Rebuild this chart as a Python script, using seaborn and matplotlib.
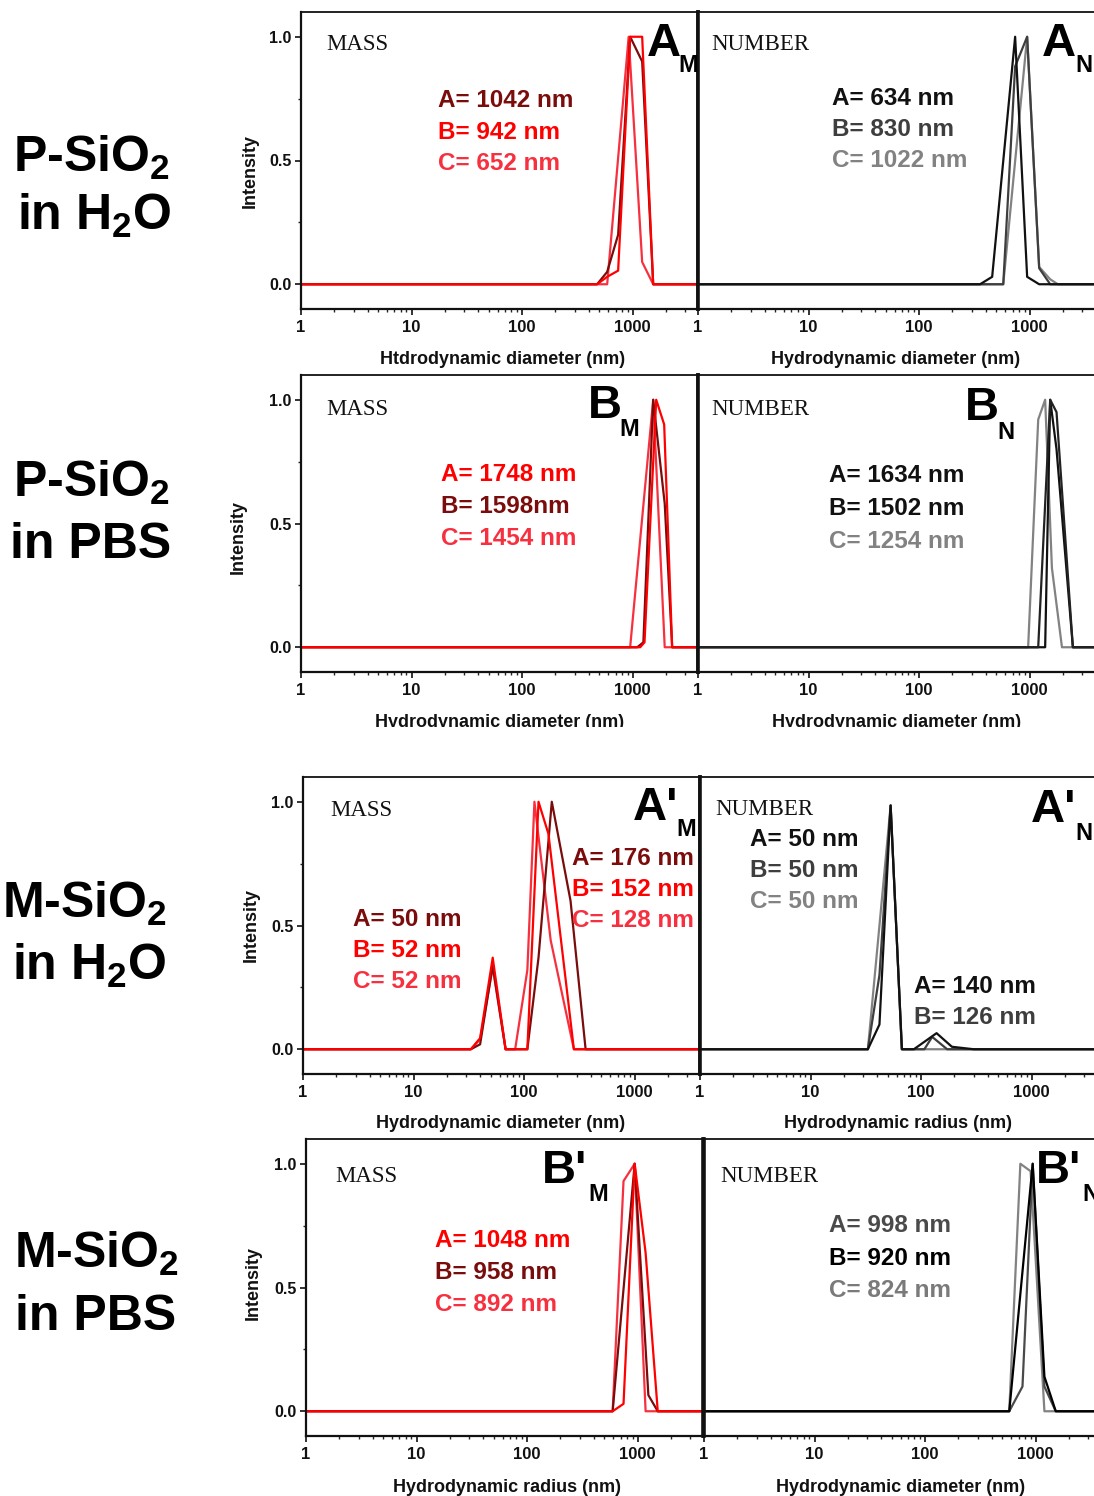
import matplotlib
matplotlib.use("Agg")
import matplotlib.pyplot as plt
import seaborn as sns
from matplotlib.ticker import FixedLocator, LogLocator, FuncFormatter, NullFormatter
from matplotlib.patches import Rectangle

# ---------------- DATA ----------------
x_ticks = [1, 10, 100, 1000]
x_tick_labels = ["1", "10", "100", "1000"]
y_ticks = [0.0, 0.5, 1.0]
y_tick_labels = ["0.0", "0.5", "1.0"]

# Row 1: P-SiO2 in H2O
p_h2o_mass_A_x = [1, 477, 588, 739, 949, 1219, 1534, 3900]
p_h2o_mass_A_y = [0, 0, 0.05, 0.2, 1.0, 0.9, 0, 0]
p_h2o_mass_B_x = [1, 477, 588, 739, 949, 1219, 1534, 3900]
p_h2o_mass_B_y = [0, 0, 0.03, 0.055, 1.0, 1.0, 0, 0]
p_h2o_mass_C_x = [1, 588, 920, 1219, 1534, 3900]
p_h2o_mass_C_y = [0, 0, 1.0, 0.09, 0, 0]
p_h2o_num_A_x = [1, 356, 458, 739, 949, 1219, 3900]
p_h2o_num_A_y = [0, 0, 0.03, 1.0, 0.03, 0, 0]
p_h2o_num_B_x = [1, 458, 577, 739, 949, 1219, 1534, 3900]
p_h2o_num_B_y = [0, 0, 0, 0.88, 1.0, 0.065, 0, 0]
p_h2o_num_C_x = [1, 577, 949, 1219, 1534, 1800, 3900]
p_h2o_num_C_y = [0, 0, 1.0, 0.07, 0.02, 0, 0]

# Row 2: P-SiO2 in PBS
p_pbs_mass_A_x = [1, 1170, 1280, 1633, 1928, 2277, 3900]
p_pbs_mass_A_y = [0, 0, 0.02, 1.0, 0.9, 0, 0]
p_pbs_mass_B_x = [1, 1100, 1250, 1534, 1950, 2277, 3900]
p_pbs_mass_B_y = [0, 0, 0.02, 1.0, 0.58, 0, 0]
p_pbs_mass_C_x = [1, 949, 1534, 1950, 3900]
p_pbs_mass_C_y = [0, 0, 1.0, 0, 0]
p_pbs_num_A_x = [1, 1195, 1534, 1750, 2460, 3900]
p_pbs_num_A_y = [0, 0, 1.0, 0.95, 0, 0]
p_pbs_num_B_x = [1, 1381, 1534, 1750, 2460, 3900]
p_pbs_num_B_y = [0, 0, 1.0, 0.8, 0, 0]
p_pbs_num_C_x = [1, 969, 1195, 1381, 1590, 1960, 3900]
p_pbs_num_C_y = [0, 0, 0.92, 1.0, 0.32, 0, 0]

# Row 3: M-SiO2 in H2O
m_h2o_mass_A_x = [1, 33, 40, 52, 68, 107, 135, 178, 263, 360, 3900]
m_h2o_mass_A_y = [0, 0, 0.02, 0.34, 0, 0, 0.37, 1.0, 0.6, 0, 0]
m_h2o_mass_B_x = [1, 33, 40, 52, 68, 107, 135, 166, 282, 3900]
m_h2o_mass_B_y = [0, 0, 0.045, 0.37, 0, 0, 1.0, 0.87, 0, 0]
m_h2o_mass_C_x = [1, 33, 40, 52, 68, 83, 107, 124, 174, 282, 3900]
m_h2o_mass_C_y = [0, 0, 0.04, 0.33, 0, 0, 0.32, 1.0, 0.44, 0, 0]
m_h2o_num_A_x = [1, 33, 42, 53, 67, 86, 138, 190, 300, 3900]
m_h2o_num_A_y = [0, 0, 0.1, 0.985, 0, 0, 0.065, 0.01, 0, 0]
m_h2o_num_B_x = [1, 33, 42, 53, 67, 107, 126, 172, 3900]
m_h2o_num_B_y = [0, 0, 0.3, 0.985, 0, 0, 0.05, 0, 0]
m_h2o_num_C_x = [1, 33, 42, 53, 67, 3900]
m_h2o_num_C_y = [0, 0, 0.5, 0.985, 0, 0]

# Row 4: M-SiO2 in PBS
m_pbs_mass_A_x = [1, 594, 745, 940, 1180, 1520, 3900]
m_pbs_mass_A_y = [0, 0, 0.03, 1.0, 0.64, 0, 0]
m_pbs_mass_B_x = [1, 594, 940, 1250, 1520, 3900]
m_pbs_mass_B_y = [0, 0, 1.0, 0.065, 0, 0]
m_pbs_mass_C_x = [1, 594, 745, 940, 1180, 3900]
m_pbs_mass_C_y = [0, 0, 0.93, 1.0, 0, 0]
m_pbs_num_A_x = [1, 577, 760, 940, 1200, 1520, 3900]
m_pbs_num_A_y = [0, 0, 0.1, 1.0, 0.1, 0, 0]
m_pbs_num_B_x = [1, 577, 940, 1200, 1520, 3900]
m_pbs_num_B_y = [0, 0, 1.0, 0.14, 0, 0]
m_pbs_num_C_x = [1, 577, 727, 900, 1200, 3900]
m_pbs_num_C_y = [0, 0, 1.0, 0.97, 0, 0]

row_labels = [("P-SiO$_2$", "in H$_2$O"), ("P-SiO$_2$", "in PBS"),
              ("M-SiO$_2$", "in H$_2$O"), ("M-SiO$_2$", "in PBS")]

# ---------------- STYLE ----------------
sns.set_theme(style="white")
plt.rcParams["font.family"] = ["Liberation Sans", "DejaVu Sans"]
plt.rcParams["font.weight"] = "bold"
plt.rcParams["mathtext.fontset"] = "custom"
plt.rcParams["mathtext.rm"] = "Liberation Sans:bold"
plt.rcParams["mathtext.it"] = "Liberation Sans:bold"
plt.rcParams["mathtext.bf"] = "Liberation Sans:bold"

DR = "#7a0c0c"
RR = "#ff0000"
LR = "#f7303f"
K = "#111111"
DG = "#3e3e3e"
GG = "#828282"

W, H = 1094, 1496
fig = plt.figure(figsize=(W / 100, H / 100), dpi=100)
fig.patch.set_facecolor("white")


def fx(px):
    return px / W


def fy(py):
    return 1 - py / H


def T(px, py, s, **kw):
    kw.setdefault("zorder", 5)
    return fig.text(fx(px), fy(py), s, **kw)


def make_ax(x, y, w, h, left):
    ax = fig.add_axes([fx(x), 1 - (y + h) / H, w / W, h / H])
    ax.set_xscale("log")
    ax.set_xlim(1, 3900)
    ax.set_ylim(-0.1, 1.1)
    ax.set_facecolor("white")
    ax.xaxis.set_major_locator(FixedLocator(x_ticks))
    ax.xaxis.set_major_formatter(FuncFormatter(lambda v, p: x_tick_labels[x_ticks.index(round(v))] if round(v) in x_ticks else ""))
    ax.xaxis.set_minor_locator(LogLocator(base=10, subs=range(2, 10)))
    ax.xaxis.set_minor_formatter(NullFormatter())
    ax.tick_params(axis="x", which="major", direction="out", length=4, width=1.2,
                   labelsize=12, pad=4, colors="#111", bottom=True)
    ax.tick_params(axis="x", which="minor", direction="out", length=2.5, width=1.0, bottom=True)
    if left:
        ax.yaxis.set_major_locator(FixedLocator(y_ticks))
        ax.set_yticklabels(y_tick_labels)
        ax.yaxis.set_minor_locator(FixedLocator([0.25, 0.75]))
        ax.tick_params(axis="y", which="major", direction="out", length=4, width=1.2,
                       labelsize=11.5, pad=3, left=True, colors="#111")
        ax.tick_params(axis="y", which="minor", direction="out", length=2.5, width=1.0, left=True)
    else:
        ax.tick_params(axis="y", which="both", left=False, labelleft=False)
        ax.set_yticks([])
    for s in ax.spines.values():
        s.set_color("#111")
        s.set_visible(True)
    ax.spines["top"].set_linewidth(1.3)
    ax.spines["bottom"].set_linewidth(1.6)
    if left:
        ax.spines["left"].set_linewidth(1.6)
        ax.spines["right"].set_linewidth(2.6)
    else:
        ax.spines["left"].set_linewidth(2.6)
        ax.spines["right"].set_linewidth(1.3)
    ax.set_xlabel("")
    ax.set_ylabel("")
    ax.grid(False)
    return ax


def draw(ax, series):
    for xs, ys, c in series:
        sns.lineplot(x=xs, y=ys, ax=ax, color=c, linewidth=1.6,
                     estimator=None, sort=False, legend=False)
    ax.set_xlabel("")
    ax.set_ylabel("")


ANN = 17.5

# ---------------- ROW 1 ----------------
axL = make_ax(301, 12, 397, 297, True)
axR = make_ax(698, 12, 397, 297, False)
draw(axL, [(p_h2o_mass_C_x, p_h2o_mass_C_y, LR), (p_h2o_mass_A_x, p_h2o_mass_A_y, DR),
           (p_h2o_mass_B_x, p_h2o_mass_B_y, RR)])
draw(axR, [(p_h2o_num_C_x, p_h2o_num_C_y, GG), (p_h2o_num_B_x, p_h2o_num_B_y, DG),
           (p_h2o_num_A_x, p_h2o_num_A_y, K)])
T(326, 50, "MASS", family="Liberation Serif", fontweight="normal", fontsize=16.5, color="#111")
T(711, 50, "NUMBER", family="Liberation Serif", fontweight="normal", fontsize=16.5, color="#111")
T(647, 56, "A", fontsize=34, color="#000")
T(678, 72, "M", fontsize=17, color="#000")
T(1042, 56, "A", fontsize=34, color="#000")
T(1075, 72, "N", fontsize=17, color="#000")
T(438, 107, "A= 1042 nm", fontsize=ANN, color=DR)
T(438, 139, "B= 942 nm", fontsize=ANN, color=RR)
T(438, 170, "C= 652 nm", fontsize=ANN, color=LR)
T(832, 105, "A= 634 nm", fontsize=ANN, color=K)
T(832, 136, "B= 830 nm", fontsize=ANN, color=DG)
T(832, 167, "C= 1022 nm", fontsize=ANN, color=GG)
T(503, 364, "Htdrodynamic diameter (nm)", fontsize=13, ha="center", color="#111")
T(896, 364, "Hydrodynamic diameter (nm)", fontsize=13, ha="center", color="#111")
T(250, 171, "Intensity", fontsize=13, rotation=90, ha="center", va="center", color="#111")

# ---------------- ROW 2 ----------------
axL = make_ax(301, 375, 397, 297, True)
axR = make_ax(698, 375, 397, 297, False)
draw(axL, [(p_pbs_mass_C_x, p_pbs_mass_C_y, LR), (p_pbs_mass_B_x, p_pbs_mass_B_y, DR),
           (p_pbs_mass_A_x, p_pbs_mass_A_y, RR)])
draw(axR, [(p_pbs_num_C_x, p_pbs_num_C_y, GG), (p_pbs_num_B_x, p_pbs_num_B_y, K),
           (p_pbs_num_A_x, p_pbs_num_A_y, "#222222")])
T(326, 415, "MASS", family="Liberation Serif", fontweight="normal", fontsize=16.5, color="#111")
T(711, 415, "NUMBER", family="Liberation Serif", fontweight="normal", fontsize=16.5, color="#111")
T(588, 418, "B", fontsize=34, color="#000")
T(619, 436, "M", fontsize=17, color="#000")
T(965, 420, "B", fontsize=34, color="#000")
T(997, 439, "N", fontsize=17, color="#000")
T(441, 481, "A= 1748 nm", fontsize=ANN, color=RR)
T(441, 513, "B= 1598nm", fontsize=ANN, color=DR)
T(441, 545, "C= 1454 nm", fontsize=ANN, color=LR)
T(829, 482, "A= 1634 nm", fontsize=ANN, color=K)
T(829, 515, "B= 1502 nm", fontsize=ANN, color=K)
T(829, 548, "C= 1254 nm", fontsize=ANN, color=GG)
T(500, 727, "Hydrodynamic diameter (nm)", fontsize=13, ha="center", color="#111", zorder=2)
T(897, 727, "Hydrodynamic diameter (nm)", fontsize=13, ha="center", color="#111", zorder=2)
T(238, 537, "Intensity", fontsize=13, rotation=90, ha="center", va="center", color="#111")
fig.patches.append(Rectangle((fx(200), fy(770)), fx(1094 - 200), (770 - 727) / H,
                             transform=fig.transFigure, facecolor="white",
                             edgecolor="none", zorder=3))

# ---------------- ROW 3 ----------------
axL = make_ax(303, 777, 397, 297, True)
axR = make_ax(700, 777, 397, 297, False)
draw(axL, [(m_h2o_mass_C_x, m_h2o_mass_C_y, LR), (m_h2o_mass_A_x, m_h2o_mass_A_y, DR),
           (m_h2o_mass_B_x, m_h2o_mass_B_y, RR)])
draw(axR, [(m_h2o_num_C_x, m_h2o_num_C_y, GG), (m_h2o_num_B_x, m_h2o_num_B_y, DG),
           (m_h2o_num_A_x, m_h2o_num_A_y, K)])
T(330, 816, "MASS", family="Liberation Serif", fontweight="normal", fontsize=16.5, color="#111")
T(715, 815, "NUMBER", family="Liberation Serif", fontweight="normal", fontsize=16.5, color="#111")
T(633, 820, "A'", fontsize=34, color="#000")
T(676, 836, "M", fontsize=17, color="#000")
T(1031, 822, "A'", fontsize=34, color="#000")
T(1075, 840, "N", fontsize=17, color="#000")
T(353, 926, "A= 50 nm", fontsize=ANN, color=DR)
T(353, 957, "B= 52 nm", fontsize=ANN, color=RR)
T(353, 988, "C= 52 nm", fontsize=ANN, color=LR)
T(572, 865, "A= 176 nm", fontsize=ANN, color=DR)
T(572, 896, "B= 152 nm", fontsize=ANN, color=RR)
T(572, 927, "C= 128 nm", fontsize=ANN, color=LR)
T(750, 846, "A= 50 nm", fontsize=ANN, color=K)
T(750, 877, "B= 50 nm", fontsize=ANN, color=DG)
T(750, 908, "C= 50 nm", fontsize=ANN, color=GG)
T(914, 993, "A= 140 nm", fontsize=ANN, color=K)
T(914, 1024, "B= 126 nm", fontsize=ANN, color=DG)
T(501, 1128, "Hydrodynamic diameter (nm)", fontsize=13, ha="center", color="#111")
T(898, 1128, "Hydrodynamic radius (nm)", fontsize=13, ha="center", color="#111")
T(251, 925, "Intensity", fontsize=13, rotation=90, ha="center", va="center", color="#111")

# ---------------- ROW 4 ----------------
axL = make_ax(306, 1139, 397, 297, True)
axR = make_ax(704, 1139, 397, 297, False)
draw(axL, [(m_pbs_mass_C_x, m_pbs_mass_C_y, LR), (m_pbs_mass_B_x, m_pbs_mass_B_y, DR),
           (m_pbs_mass_A_x, m_pbs_mass_A_y, RR)])
draw(axR, [(m_pbs_num_C_x, m_pbs_num_C_y, GG), (m_pbs_num_A_x, m_pbs_num_A_y, "#4a4a4a"),
           (m_pbs_num_B_x, m_pbs_num_B_y, "#000000")])
T(335, 1182, "MASS", family="Liberation Serif", fontweight="normal", fontsize=16.5, color="#111")
T(720, 1182, "NUMBER", family="Liberation Serif", fontweight="normal", fontsize=16.5, color="#111")
T(542, 1183, "B'", fontsize=34, color="#000")
T(588, 1201, "M", fontsize=17, color="#000")
T(1036, 1183, "B'", fontsize=34, color="#000")
T(1082, 1201, "N", fontsize=17, color="#000")
T(435, 1247, "A= 1048 nm", fontsize=ANN, color=RR)
T(435, 1279, "B= 958 nm", fontsize=ANN, color=DR)
T(435, 1311, "C= 892 nm", fontsize=ANN, color=LR)
T(829, 1232, "A= 998 nm", fontsize=ANN, color="#4a4a4a")
T(829, 1265, "B= 920 nm", fontsize=ANN, color="#000000")
T(829, 1297, "C= 824 nm", fontsize=ANN, color="#7a7a7a")
T(507, 1492, "Hydrodynamic radius (nm)", fontsize=13, ha="center", color="#111")
T(901, 1492, "Hydrodynamic diameter (nm)", fontsize=13, ha="center", color="#111")
T(253, 1283, "Intensity", fontsize=13, rotation=90, ha="center", va="center", color="#111")

# ---------------- ROW LABELS ----------------
row_baselines = [(172, 230), (497, 558), (918, 980), (1268, 1330)]
row_centers = [(91, 94), (91, 91), (85, 89), (97, 96)]
for (l1, l2), (b1, b2), (c1, c2) in zip(row_labels, row_baselines, row_centers):
    T(c1, b1, l1, fontsize=36, ha="center", va="baseline", color="#000")
    T(c2, b2, l2, fontsize=36, ha="center", va="baseline", color="#000")

fig.savefig("out.png", dpi=100, facecolor="white")
